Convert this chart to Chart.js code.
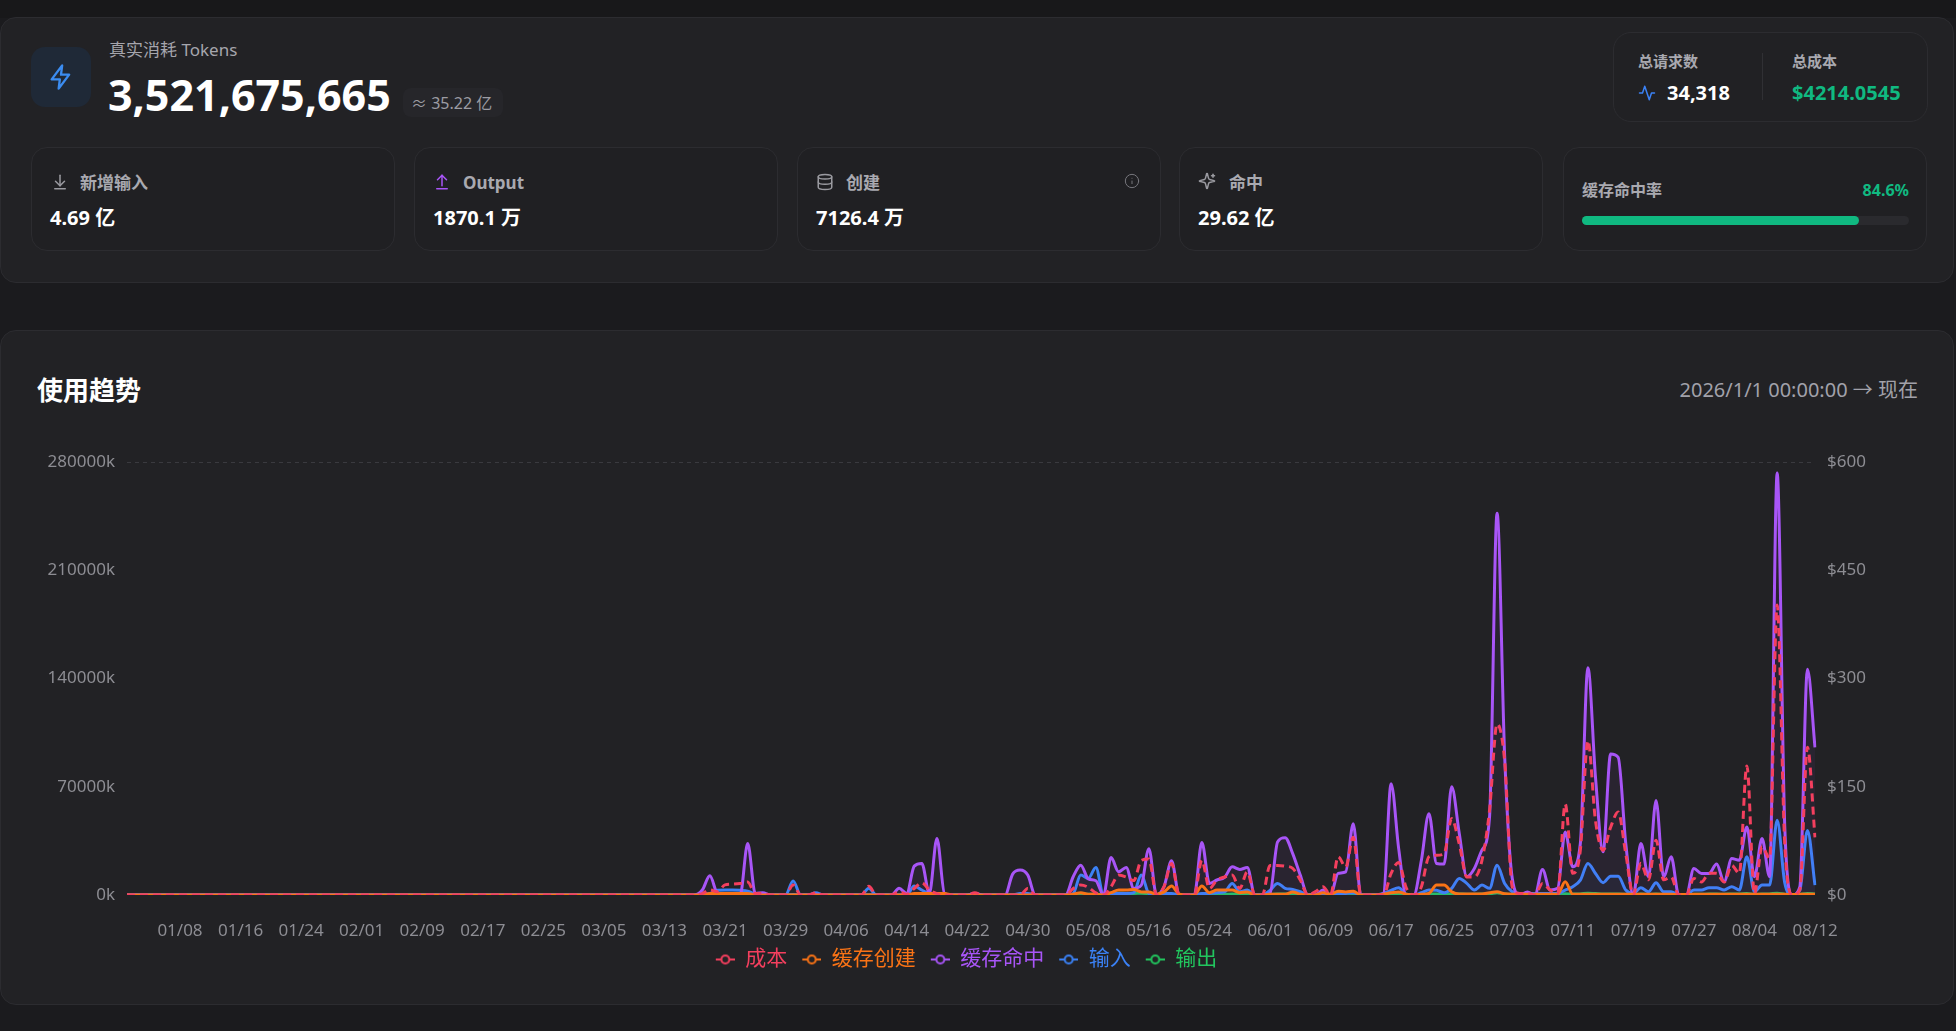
<!DOCTYPE html>
<html lang="zh-CN">
<head>
<meta charset="utf-8">
<title>使用趋势</title>
<script src="https://cdn.jsdelivr.net/npm/chart.js@4.4.1/dist/chart.umd.min.js"></script>
<style>
  html, body {
    margin: 0;
    padding: 0;
    width: 1956px;
    height: 1031px;
    overflow: hidden;
    background: #1b1b1e;
    font-family: "Noto Sans", "Noto Sans CJK SC", sans-serif;
  }
  .topbar { position: absolute; left: 0; top: 0; width: 1956px; height: 18px; background: #18181a; }
  .panel {
    position: absolute;
    box-sizing: border-box;
    background: #222225;
    border: 1px solid #2c2c30;
    border-radius: 16px;
  }
  .card {
    position: absolute;
    box-sizing: border-box;
    top: 147px;
    width: 364px;
    height: 104px;
    background: #202023;
    border: 1px solid #2c2c30;
    border-radius: 16px;
  }
  .t { position: absolute; white-space: nowrap; line-height: 1; }
  .icon { position: absolute; width: 18px; height: 18px; fill: none; stroke-width: 2; stroke-linecap: round; stroke-linejoin: round; }
  .lbl { font-size: 16px; font-weight: 700; color: #a9a9b0; }
  .val { font-size: 20px; font-weight: 700; color: #ffffff; }
</style>
</head>
<body>
<div class="topbar"></div>

<!-- верхняя панель со сводкой -->
<div class="panel" style="left:0; top:17px; width:1954px; height:266px;"></div>

<div style="position:absolute; left:31px; top:47px; width:60px; height:60px; border-radius:14px; background:#1f2937;"></div>
<svg class="icon" style="left:47px; top:63px; width:28px; height:28px; stroke:#3b8cf0;" viewBox="0 0 24 24">
  <path d="M13 2 4 14h7l-1 8 9-12h-7z"/>
</svg>
<div class="t" style="left:109px; top:41px; font-size:17px; color:#a6a6ad;">真实消耗 Tokens</div>
<div class="t" style="left:108px; top:73px; font-size:43px; font-weight:700; color:#ffffff;">3,521,675,665</div>
<div style="position:absolute; left:403px; top:88px; width:100px; height:29px; border-radius:8px; background:#26262a;"></div>
<div class="t" style="left:411px; top:95px; font-size:16px; color:#9c9ca3;">≈ 35.22 亿</div>

<!-- общие запросы и стоимость -->
<div class="panel" style="left:1613px; top:32px; width:315px; height:90px; border-radius:18px; background:#212124;"></div>
<div class="t lbl" style="left:1638px; top:54px; font-size:15px;">总请求数</div>
<svg class="icon" style="left:1638px; top:84px; stroke:#3b82f6;" viewBox="0 0 24 24">
  <path d="M22 12h-4l-3 9L9 3l-3 9H2"/>
</svg>
<div class="t val" style="left:1667px; top:83px;">34,318</div>
<div style="position:absolute; left:1762px; top:53px; width:1px; height:47px; background:#303034;"></div>
<div class="t lbl" style="left:1792px; top:54px; font-size:15px;">总成本</div>
<div class="t val" style="left:1792px; top:83px; color:#10b981;">$4214.0545</div>

<!-- карточки -->
<div class="card" style="left:31px;"></div>
<svg class="icon" style="left:51px; top:173px; stroke:#9a9aa0;" viewBox="0 0 24 24">
  <path d="M12 17V3"/><path d="m6 11 6 6 6-6"/><path d="M19 21H5"/>
</svg>
<div class="t lbl" style="left:80px; top:174px; font-size:17px;">新增输入</div>
<div class="t val" style="left:50px; top:208px;">4.69 亿</div>

<div class="card" style="left:414px;"></div>
<svg class="icon" style="left:433px; top:173px; stroke:#a855f7;" viewBox="0 0 24 24">
  <path d="m18 9-6-6-6 6"/><path d="M12 3v14"/><path d="M5 21h14"/>
</svg>
<div class="t lbl" style="left:463px; top:174px; font-size:17px;">Output</div>
<div class="t val" style="left:433px; top:208px;">1870.1 万</div>

<div class="card" style="left:797px;"></div>
<svg class="icon" style="left:816px; top:173px; stroke:#9a9aa0;" viewBox="0 0 24 24">
  <ellipse cx="12" cy="5" rx="9" ry="3"/><path d="M3 5v14a9 3 0 0 0 18 0V5"/><path d="M3 12a9 3 0 0 0 18 0"/>
</svg>
<div class="t lbl" style="left:846px; top:174px; font-size:17px;">创建</div>
<div class="t val" style="left:816px; top:208px;">7126.4 万</div>
<svg class="icon" style="left:1124px; top:173px; width:16px; height:16px; stroke:#77777d; stroke-width:1.5;" viewBox="0 0 24 24">
  <circle cx="12" cy="12" r="10"/><path d="M12 16v-4"/><path d="M12 8h.01"/>
</svg>

<div class="card" style="left:1179px;"></div>
<svg class="icon" style="left:1198px; top:172px; stroke:#9a9aa0;" viewBox="0 0 24 24">
  <path d="M9.9 15.5a2 2 0 0 0-1.4-1.4l-6.1-1.6a.5.5 0 0 1 0-1l6.1-1.6a2 2 0 0 0 1.4-1.4l1.6-6.1a.5.5 0 0 1 1 0l1.6 6.1a2 2 0 0 0 1.4 1.4l6.1 1.6a.5.5 0 0 1 0 1l-6.1 1.6a2 2 0 0 0-1.4 1.4l-1.6 6.1a.5.5 0 0 1-1 0z"/><path d="M20 3v4"/><path d="M22 5h-4"/>
</svg>
<div class="t lbl" style="left:1229px; top:174px; font-size:17px;">命中</div>
<div class="t val" style="left:1198px; top:208px;">29.62 亿</div>

<div class="card" style="left:1563px;"></div>
<div class="t lbl" style="left:1582px; top:182px;">缓存命中率</div>
<div class="t lbl" style="left:1849px; top:182px; color:#10b981; width:60px; text-align:right;">84.6%</div>
<div style="position:absolute; left:1582px; top:216px; width:327px; height:9px; border-radius:5px; background:#2a2a2e;"></div>
<div style="position:absolute; left:1582px; top:216px; width:277px; height:9px; border-radius:5px; background:#10b981;"></div>

<!-- панель графика -->
<div class="panel" style="left:0; top:330px; width:1954px; height:675px;"></div>
<div class="t" style="left:37px; top:377px; font-size:26px; font-weight:700; color:#ffffff;">使用趋势</div>
<div class="t" style="left:600px; top:380px; width:1318px; text-align:right; font-size:20px; color:#a1a1aa;">2026/1/1 00:00:00 → 现在</div>

<div style="position:absolute; left:0; top:440px; width:1956px; height:540px;">
  <canvas id="trend"></canvas>
</div>

<script>
// Ежедневные значения с 01.01 по 08.12 (224 дня), токены в тысячах, стоимость в $
const cacheHit = [
  0, 0, 0, 0, 0, 0, 0, 0, 0, 0,
  0, 0, 0, 0, 0, 0, 0, 0, 0, 0,
  0, 0, 0, 0, 0, 0, 0, 0, 0, 0,
  0, 0, 0, 0, 0, 0, 0, 0, 0, 0,
  0, 0, 0, 0, 0, 0, 0, 0, 0, 0,
  0, 0, 0, 0, 0, 0, 0, 0, 0, 0,
  0, 0, 0, 0, 0, 0, 0, 0, 0, 0,
  0, 0, 0, 0, 0, 0, 3200, 12400, 1000, 0,
  0, 0, 33300, 1000, 1500, 0, 0, 0, 0, 0,
  0, 500, 0, 0, 0, 0, 0, 0, 0, 0,
  0, 0, 4300, 1000, 18700, 20400, 1000, 36500, 1000, 0,
  0, 0, 1000, 0, 0, 0, 0, 13500, 16100, 12900,
  0, 0, 0, 0, 0, 11800, 19300, 10400, 9200, 0,
  24200, 15000, 17800, 4300, 6400, 30000, 0, 5400, 22100, 0,
  0, 0, 33900, 7500, 9700, 11400, 18200, 16500, 17800, 0,
  0, 1000, 34300, 37100, 26800, 12900, 0, 0, 3200, 0,
  14000, 15000, 46100, 0, 0, 0, 1000, 72000, 30000, 0,
  0, 22500, 52600, 20400, 20000, 70000, 40000, 11800, 17200, 29000,
  50000, 247000, 90000, 11000, 0, 2000, 0, 16500, 3200, 4300,
  40800, 18200, 33300, 147000, 76200, 27900, 91200, 89000, 33300, 0,
  33300, 11800, 61200, 11800, 24700, 0, 0, 17200, 13900, 13900,
  20000, 8600, 23600, 22500, 44000, 11800, 36500, 11800, 273000, 45000,
  0, 5400, 146000, 95500,
];

const cost = [
  0, 0, 0, 0, 0, 0, 0, 0, 0, 0,
  0, 0, 0, 0, 0, 0, 0, 0, 0, 0,
  0, 0, 0, 0, 0, 0, 0, 0, 0, 0,
  0, 0, 0, 0, 0, 0, 0, 0, 0, 0,
  0, 0, 0, 0, 0, 0, 0, 0, 0, 0,
  0, 0, 0, 0, 0, 0, 0, 0, 0, 0,
  0, 0, 0, 0, 0, 0, 0, 0, 0, 0,
  0, 0, 0, 0, 0, 0, 2, 7, 4.6, 14,
  15, 16, 18, 2, 2, 0, 0, 0, 14, 0,
  0, 3, 0, 0, 0, 0, 0, 0, 12, 0,
  0, 0, 4.6, 1, 9, 17, 7, 2, 0, 0,
  0, 0, 3, 0, 0, 0, 0, 0, 0, 9,
  0, 0, 0, 0, 0, 9, 14, 10.6, 3, 0,
  11.5, 27.6, 25, 20, 48, 50, 0, 11.5, 43.7, 0,
  0, 0, 48, 9, 20.7, 25, 27.6, 9, 32, 0,
  0, 41, 41, 40, 37, 20.7, 0, 4.6, 11.5, 0,
  53, 39, 80, 0, 0, 0, 0, 30, 45, 10,
  0, 11.5, 53, 55, 57, 106, 71, 25, 25, 48,
  117, 237, 186, 11.5, 2, 2, 0, 16, 7, 2,
  126, 30, 62, 214, 103, 62, 94, 115, 57, 0,
  44, 21, 76, 21, 25, 0, 0, 23, 18, 30,
  30, 18, 41, 30, 179, 2, 67, 51, 402, 71,
  0, 7, 205, 80,
];

const input = [
  0, 0, 0, 0, 0, 0, 0, 0, 0, 0,
  0, 0, 0, 0, 0, 0, 0, 0, 0, 0,
  0, 0, 0, 0, 0, 0, 0, 0, 0, 0,
  0, 0, 0, 0, 0, 0, 0, 0, 0, 0,
  0, 0, 0, 0, 0, 0, 0, 0, 0, 0,
  0, 0, 0, 0, 0, 0, 0, 0, 0, 0,
  0, 0, 0, 0, 0, 0, 0, 0, 0, 0,
  0, 0, 0, 0, 0, 0, 500, 1000, 3000, 3200,
  3200, 3000, 2500, 500, 0, 0, 0, 0, 9000, 0,
  0, 1500, 0, 0, 0, 0, 0, 0, 4300, 0,
  0, 0, 0, 0, 5800, 3200, 500, 0, 0, 0,
  0, 0, 1000, 0, 0, 0, 0, 0, 1000, 1000,
  0, 0, 0, 0, 0, 1000, 12900, 10700, 17800, 0,
  1000, 1000, 1000, 1500, 12900, 1000, 0, 1000, 1000, 0,
  0, 0, 1000, 1000, 1500, 2000, 7500, 2100, 3200, 0,
  0, 3000, 7500, 4300, 3600, 2100, 0, 500, 1000, 0,
  1000, 1000, 1500, 0, 0, 0, 1000, 3000, 4700, 500,
  0, 1500, 3200, 3000, 1500, 4300, 10700, 7500, 3200, 6400,
  4300, 19300, 7500, 2100, 1000, 1000, 1000, 1000, 1000, 1000,
  3200, 5400, 9600, 20400, 13900, 8000, 12200, 12200, 3200, 1000,
  4700, 2100, 8000, 2100, 2100, 0, 0, 3200, 3200, 4700,
  4700, 3200, 5400, 3200, 24700, 2100, 6400, 6400, 48300, 8000,
  0, 3200, 41800, 6400,
];

const cacheCreate = [
  0, 0, 0, 0, 0, 0, 0, 0, 0, 0,
  0, 0, 0, 0, 0, 0, 0, 0, 0, 0,
  0, 0, 0, 0, 0, 0, 0, 0, 0, 0,
  0, 0, 0, 0, 0, 0, 0, 0, 0, 0,
  0, 0, 0, 0, 0, 0, 0, 0, 0, 0,
  0, 0, 0, 0, 0, 0, 0, 0, 0, 0,
  0, 0, 0, 0, 0, 0, 0, 0, 0, 0,
  0, 0, 0, 0, 0, 0, 0, 1000, 1000, 1000,
  1000, 1000, 1000, 0, 0, 0, 0, 0, 0, 0,
  0, 0, 0, 0, 0, 0, 0, 0, 0, 0,
  0, 0, 0, 0, 1000, 1000, 1000, 1000, 1000, 0,
  0, 0, 0, 0, 0, 0, 0, 0, 0, 0,
  0, 0, 0, 0, 0, 500, 1500, 500, 500, 0,
  1500, 3200, 3200, 3600, 2000, 2000, 500, 2000, 5800, 500,
  0, 0, 5800, 1500, 3200, 3200, 3200, 1500, 2000, 0,
  0, 500, 500, 500, 2000, 500, 0, 0, 1500, 500,
  2500, 2000, 2500, 0, 0, 0, 500, 1500, 2000, 500,
  0, 500, 1000, 6400, 6400, 2100, 600, 600, 600, 600,
  1500, 2100, 800, 500, 500, 500, 500, 500, 500, 500,
  8600, 500, 500, 500, 500, 500, 500, 500, 500, 500,
  500, 500, 500, 500, 500, 300, 300, 500, 500, 500,
  500, 500, 500, 500, 500, 500, 500, 500, 500, 500,
  300, 500, 500, 500,
];

const output = [
  0, 0, 0, 0, 0, 0, 0, 0, 0, 0,
  0, 0, 0, 0, 0, 0, 0, 0, 0, 0,
  0, 0, 0, 0, 0, 0, 0, 0, 0, 0,
  0, 0, 0, 0, 0, 0, 0, 0, 0, 0,
  0, 0, 0, 0, 0, 0, 0, 0, 0, 0,
  0, 0, 0, 0, 0, 0, 0, 0, 0, 0,
  0, 0, 0, 0, 0, 0, 0, 0, 0, 0,
  0, 0, 0, 0, 0, 0, 0, 200, 200, 200,
  200, 200, 200, 0, 0, 0, 0, 0, 300, 0,
  0, 0, 0, 0, 0, 0, 0, 0, 200, 0,
  0, 0, 200, 0, 300, 300, 200, 200, 0, 0,
  0, 0, 0, 0, 0, 0, 0, 200, 300, 200,
  0, 0, 0, 0, 0, 200, 500, 500, 600, 0,
  1200, 1200, 1000, 1000, 1200, 800, 0, 500, 600, 0,
  0, 0, 600, 400, 500, 500, 600, 400, 500, 0,
  0, 400, 600, 600, 500, 300, 0, 200, 500, 0,
  1200, 1200, 1000, 0, 0, 0, 300, 800, 1000, 200,
  0, 500, 700, 600, 600, 800, 700, 500, 500, 600,
  800, 1500, 700, 300, 200, 300, 200, 500, 300, 300,
  800, 600, 700, 1200, 900, 600, 700, 700, 500, 200,
  600, 400, 700, 400, 400, 0, 0, 500, 500, 600,
  600, 500, 700, 600, 1000, 400, 600, 700, 1200, 500,
  0, 400, 1000, 600,
];

const seriesNames = ['成本', '缓存创建', '缓存命中', '输入', '输出'];
const seriesColors = ['#f43f5e', '#f97316', '#a855f7', '#3b82f6', '#22c55e'];

const leftTicks = [0, 70000, 140000, 210000, 280000];
const rightTicks = [0, 150, 300, 450, 600];

// Подписи дат MM/DD начиная с 2026-01-01
const days = [];
for (let i = 0; i < cacheHit.length; i++) {
  const d = new Date(2026, 0, 1 + i);
  const mm = String(d.getMonth() + 1).padStart(2, '0');
  const dd = String(d.getDate()).padStart(2, '0');
  days.push(`${mm}/${dd}`);
}

// Значок легенды: линия с пустым кружком (слева небольшой отступ)
function legendIcon(color) {
  const c = document.createElement('canvas');
  c.width = 24;
  c.height = 12;
  const g = c.getContext('2d');
  g.strokeStyle = color;
  g.lineWidth = 2;
  g.beginPath();
  g.moveTo(5, 6);
  g.lineTo(24, 6);
  g.stroke();
  g.beginPath();
  g.arc(14.5, 6, 4, 0, Math.PI * 2);
  g.fillStyle = '#222225';
  g.fill();
  g.stroke();
  return c;
}

const fontFamily = '"Noto Sans", "Noto Sans CJK SC", sans-serif';
const tickColor = '#8d8d93';
Chart.defaults.font.family = fontFamily;

const datasets = [
  {
    label: seriesNames[0],
    data: cost,
    yAxisID: 'y1',
    borderColor: seriesColors[0],
    borderDash: [8, 5],
    borderWidth: 3,
  },
  {
    label: seriesNames[1],
    data: cacheCreate,
    yAxisID: 'y',
    borderColor: seriesColors[1],
    borderWidth: 3,
  },
  {
    label: seriesNames[2],
    data: cacheHit,
    yAxisID: 'y',
    borderColor: seriesColors[2],
    borderWidth: 3,
    fill: 'origin',
    backgroundColor: 'rgba(168, 85, 247, 0.05)',
  },
  {
    label: seriesNames[3],
    data: input,
    yAxisID: 'y',
    borderColor: seriesColors[3],
    borderWidth: 3,
    fill: 'origin',
    backgroundColor: 'rgba(59, 130, 246, 0.04)',
  },
  {
    label: seriesNames[4],
    data: output,
    yAxisID: 'y',
    borderColor: seriesColors[4],
    borderWidth: 3,
  },
];

new Chart(document.getElementById('trend'), {
  type: 'line',
  data: { labels: days, datasets: datasets },
  options: {
    responsive: true,
    maintainAspectRatio: false,
    animation: false,
    elements: {
      point: { radius: 0, hoverRadius: 0 },
      line: { cubicInterpolationMode: 'monotone' },
    },
    // правый отступ сдвигает легенду влево, как в оригинале
    layout: { padding: { top: 19, left: 0, right: 28, bottom: 0 } },
    plugins: {
      tooltip: { enabled: false },
      legend: {
        position: 'bottom',
        labels: {
          usePointStyle: true,
          pointStyleWidth: 24,
          padding: 10,
          font: { size: 21 },
          generateLabels(chart) {
            const items = Chart.defaults.plugins.legend.labels.generateLabels(chart);
            items.forEach((item, i) => {
              item.pointStyle = legendIcon(seriesColors[i]);
              item.fontColor = seriesColors[i];
            });
            return items;
          },
        },
      },
    },
    scales: {
      x: {
        grid: { display: false },
        border: { display: false },
        ticks: {
          autoSkip: false,
          maxRotation: 0,
          padding: 18,
          color: tickColor,
          font: { size: 17 },
          callback(value, index) {
            return index >= 7 && (index - 7) % 8 === 0 ? days[index] : '';
          },
        },
        afterFit(scale) {
          scale.height = 44;
        },
      },
      y: {
        position: 'left',
        min: leftTicks[0],
        max: leftTicks[leftTicks.length - 1],
        afterBuildTicks(scale) {
          scale.ticks = leftTicks.map((v) => ({ value: v }));
        },
        ticks: {
          padding: 12,
          color: tickColor,
          font: { size: 17 },
          callback: (v) => `${v}k`,
        },
        grid: {
          drawTicks: false,
          color: (ctx) => (ctx.tick && ctx.tick.value === 280000 ? '#3a3a3f' : 'rgba(0,0,0,0)'),
        },
        border: { display: false, dash: [4, 4] },
        afterFit(scale) {
          scale.width = 127;
        },
      },
      y1: {
        position: 'right',
        min: rightTicks[0],
        max: rightTicks[rightTicks.length - 1],
        afterBuildTicks(scale) {
          scale.ticks = rightTicks.map((v) => ({ value: v }));
        },
        ticks: {
          padding: 12,
          color: tickColor,
          font: { size: 17 },
          callback: (v) => `$${v}`,
        },
        grid: { display: false, drawTicks: false },
        border: { display: false },
        afterFit(scale) {
          scale.width = 113;
        },
      },
    },
  },
});
</script>
</body>
</html>
